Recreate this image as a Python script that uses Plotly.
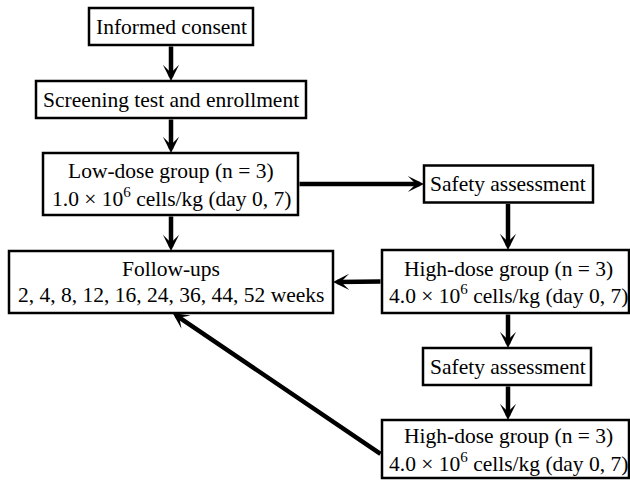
import plotly.graph_objects as go

# ---- content (text of each step) ----
step_names = ["consent", "screening", "low", "followup", "safety1", "high1", "safety2", "high2"]
step_lines = [
    ["Informed consent"],
    ["Screening test and enrollment"],
    ["Low-dose group (n = 3)", "1.0 × 10<sup>6</sup> cells/kg (day 0, 7)"],
    ["Follow-ups", "2, 4, 8, 12, 16, 24, 36, 44, 52 weeks"],
    ["Safety assessment"],
    ["High-dose group (n = 3)", "4.0 × 10<sup>6</sup> cells/kg (day 0, 7)"],
    ["Safety assessment"],
    ["High-dose group (n = 3)", "4.0 × 10<sup>6</sup> cells/kg (day 0, 7)"],
]
# flow links: (from step, to step)
links = [
    ("consent", "screening"),
    ("screening", "low"),
    ("low", "followup"),
    ("low", "safety1"),
    ("safety1", "high1"),
    ("high1", "followup"),
    ("high1", "safety2"),
    ("safety2", "high2"),
    ("high2", "followup"),
]

# ---- layout geometry (pixels, y downward) ----
COL = {"left": 171, "right": 508}
geom = {
    # name: (x0, x1, y0, y1, column)
    "consent":   (89, 253, 8, 45, "left"),
    "screening": (36, 306, 81, 118, "left"),
    "low":       (43, 298, 153, 215, "left"),
    "followup":  (9, 333, 251, 313, "left"),
    "safety1":   (424, 593, 165.5, 202.5, "right"),
    "high1":     (382, 629, 250, 313, "right"),
    "safety2":   (423, 591, 348, 385, "right"),
    "high2":     (382, 629, 420, 478, "right"),
}
# which sides each link uses: (tail side, tail fraction, head side, head fraction)
link_sides = [
    ("bottom", None, "top", None),
    ("bottom", None, "top", None),
    ("bottom", None, "top", None),
    ("right", 0.5, "left", 0.5),
    ("bottom", None, "top", None),
    ("left", 0.5, "right", 0.5),
    ("bottom", None, "top", None),
    ("bottom", None, "top", None),
    ("left", 0.6, "bottom", 0.505),
]

FONT = dict(family="Liberation Serif, Times New Roman, serif", size=21.5, color="black")
LINE_GAP = 26


def point(name, side, frac):
    x0, x1, y0, y1, col = geom[name]
    cx = COL[col]
    if side == "top":
        return (cx if frac is None else x0 + frac * (x1 - x0), y0)
    if side == "bottom":
        return (cx if frac is None else x0 + frac * (x1 - x0), y1)
    if side == "left":
        return (x0, y0 + (0.5 if frac is None else frac) * (y1 - y0))
    return (x1, y0 + (0.5 if frac is None else frac) * (y1 - y0))


fig = go.Figure()
fig.add_trace(go.Scatter(x=[0, 630], y=[0, 481], mode="markers",
                         marker=dict(opacity=0), hoverinfo="skip", showlegend=False))

shapes = []
annotations = []
for name, lines in zip(step_names, step_lines):
    x0, x1, y0, y1, col = geom[name]
    shapes.append(dict(type="rect", xref="x", yref="y", x0=x0, x1=x1, y0=y0, y1=y1,
                       line=dict(color="black", width=2.5), fillcolor="white", layer="below"))
    cy = (y0 + y1) / 2
    n = len(lines)
    for i, t in enumerate(lines):
        ly = cy + (i - (n - 1) / 2) * LINE_GAP
        annotations.append(dict(x=COL[col], y=ly, xref="x", yref="y", text=t,
                                showarrow=False, font=FONT, xanchor="center", yanchor="middle"))

for (a, b), (ts, tf, hs, hf) in zip(links, link_sides):
    tx, ty = point(a, ts, tf)
    hx, hy = point(b, hs, hf)
    annotations.append(dict(x=hx, y=hy, ax=tx, ay=ty, xref="x", yref="y", axref="x", ayref="y",
                            text="", showarrow=True, arrowhead=3, arrowsize=0.6,
                            arrowwidth=4.5, arrowcolor="black", standoff=0, startstandoff=0))

fig.update_layout(
    width=630, height=481,
    margin=dict(l=0, r=0, t=0, b=0),
    paper_bgcolor="white", plot_bgcolor="white",
    xaxis=dict(range=[0, 630], visible=False, fixedrange=True),
    yaxis=dict(range=[481, 0], visible=False, fixedrange=True),
    shapes=shapes, annotations=annotations, showlegend=False,
)
fig.write_html("out.html", config={"displayModeBar": False, "staticPlot": True},
               post_script="document.body.style.margin='0';document.body.style.overflow='hidden';")
